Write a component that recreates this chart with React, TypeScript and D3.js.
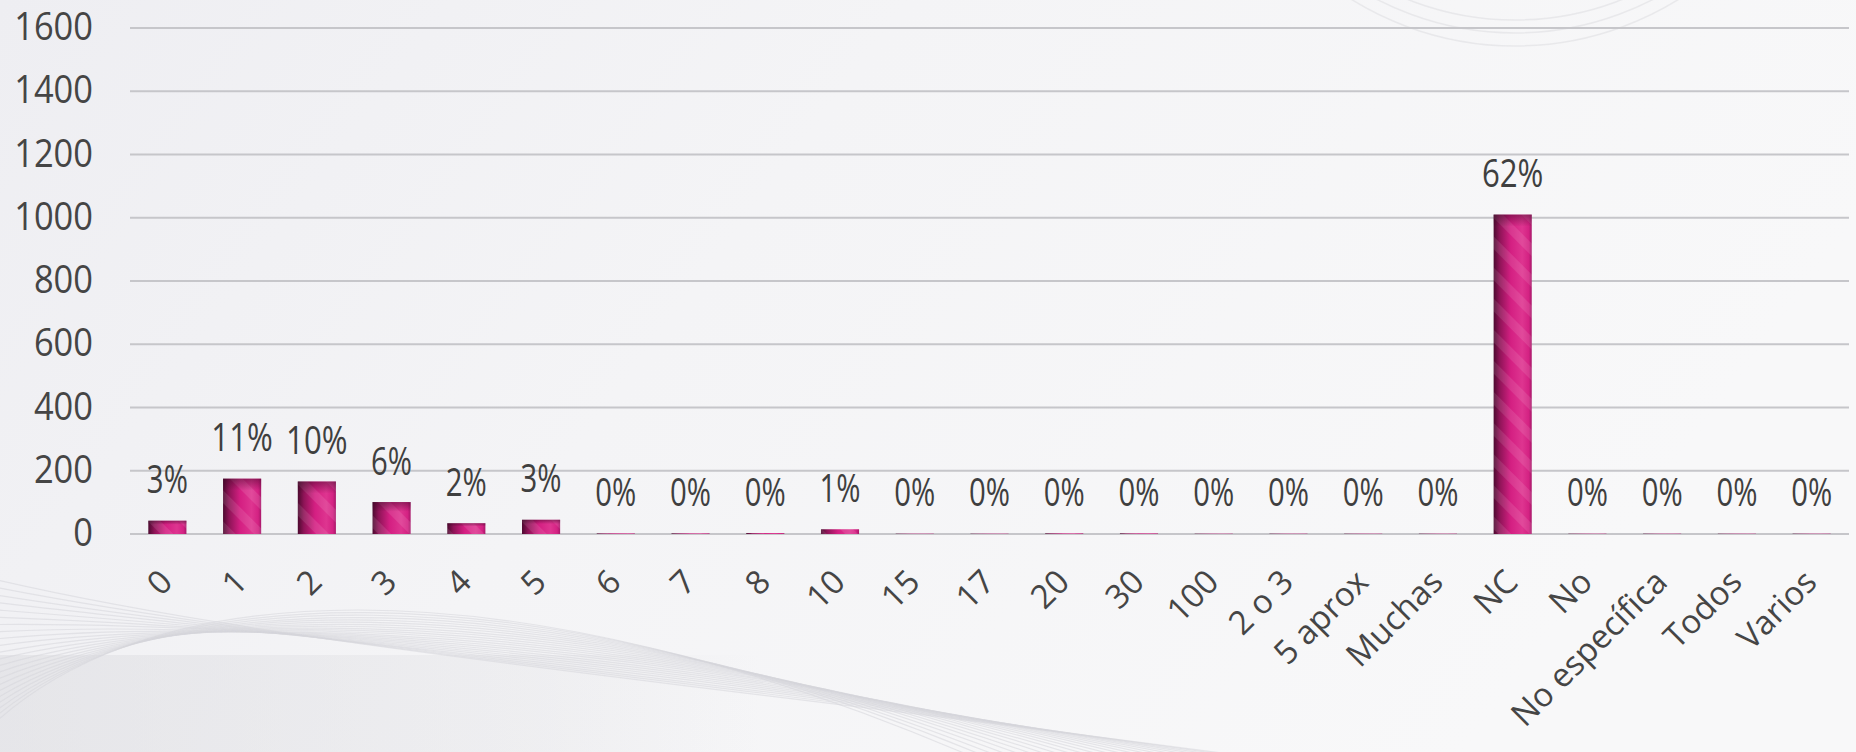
import React from "react";
import * as d3 from "d3";

const categories = ["0","1","2","3","4","5","6","7","8","10","15","17","20","30","100","2 o 3","5 aprox","Muchas","NC","No","No específica","Todos","Varios"];
const values = [42,175,166,101,34,45,2,2,3,15,1,1,2,2,1,1,1,1,1010,1,1,1,1];
const pctLabels = ["3%","11%","10%","6%","2%","3%","0%","0%","0%","1%","0%","0%","0%","0%","0%","0%","0%","0%","62%","0%","0%","0%","0%"];
const yTicks = [0,200,400,600,800,1000,1200,1400,1600];

const W = 1856, H = 752;
const left = 130, right = 1849, top = 28, bottom = 534;

export default function App() {
  const x = d3.scaleBand<string>().domain(categories).range([left, right]).paddingInner(0.49).paddingOuter(0.245);
  const y = d3.scaleLinear().domain([0, 1600]).range([bottom, top]);
  const numFont = "'Open Sans', 'Noto Sans', sans-serif";
  const hills = d3.range(22).map((i) => {
    const p = d3.path();
    p.moveTo(-40, 760 - i * 9);
    p.bezierCurveTo(120 + i * 6, 560 + i * 4, 520 + i * 10, 560 + i * 6, 980 + i * 14, 760);
    return p.toString();
  });
  const topArcs = d3.range(3).map((i) => {
    const p = d3.path();
    p.arc(1515, -270 + i * 3, 290 + i * 10, 0.1, Math.PI - 0.1);
    return p.toString();
  });
  return (
    <svg width={W} height={H} style={{ position: "absolute", left: 0, top: 0, display: "block" }}>
      <defs>
        <linearGradient id="bg" x1="0" y1="0" x2="1" y2="0.3">
          <stop offset="0" stopColor="#eeeef2" />
          <stop offset="0.45" stopColor="#f4f4f6" />
          <stop offset="1" stopColor="#f8f8f9" />
        </linearGradient>
        <linearGradient id="band" x1="0" y1="0" x2="1" y2="0">
          <stop offset="0" stopColor="#dcdce0" stopOpacity="0.55" />
          <stop offset="0.7" stopColor="#dcdce0" stopOpacity="0.25" />
          <stop offset="1" stopColor="#dcdce0" stopOpacity="0" />
        </linearGradient>
        <linearGradient id="barGrad" x1="0" y1="0" x2="1" y2="0">
          <stop offset="0" stopColor="#4d0a30" />
          <stop offset="0.16" stopColor="#8e1457" />
          <stop offset="0.45" stopColor="#d41f82" />
          <stop offset="0.75" stopColor="#de3590" />
          <stop offset="0.92" stopColor="#d42283" />
          <stop offset="1" stopColor="#a8186a" />
        </linearGradient>
        <linearGradient id="capGrad" x1="0" y1="0" x2="0" y2="1">
          <stop offset="0" stopColor="#3a0522" stopOpacity="0.45" />
          <stop offset="1" stopColor="#3a0522" stopOpacity="0" />
        </linearGradient>
        <pattern id="stripes" patternUnits="userSpaceOnUse" width="22" height="22" patternTransform="rotate(-45)">
          <rect x="0" y="0" width="9" height="22" fill="#ffffff" fillOpacity="0.1" />
        </pattern>
      </defs>
      <rect x={0} y={0} width={W} height={H} fill="url(#bg)" />
      <rect x={0} y={655} width={760} height={97} fill="url(#band)" />
      <g fill="none" stroke="#d6d6da" strokeOpacity="0.55" strokeWidth="1.2">
        {hills.map((d, i) => <path key={i} d={d} />)}
      </g>
      <g fill="none" stroke="#e2e2e6" strokeOpacity="0.7" strokeWidth="1.5">
        {topArcs.map((d, i) => <path key={i} d={d} />)}
      </g>
      <g>
        {yTicks.map((t) => (
          <line key={t} x1={left} x2={right} y1={y(t)} y2={y(t)} stroke="#c6c6ca" strokeWidth={2} />
        ))}
      </g>
      <g fontFamily={numFont} fontSize={38} fill="#454545" textAnchor="end">
        {yTicks.map((t) => {
          const s = String(t);
          return (
            <text key={t} x={93} y={y(t) + 12} textLength={s.length * 19.7} lengthAdjust="spacingAndGlyphs">{s}</text>
          );
        })}
      </g>
      <g>
        {categories.map((c, i) => {
          const bx = x(c)!;
          const by = y(values[i]);
          const h = bottom - by;
          return (
            <g key={c}>
              <rect x={bx} y={by} width={x.bandwidth()} height={h} fill="url(#barGrad)" />
              <rect x={bx} y={by} width={x.bandwidth()} height={h} fill="url(#stripes)" />
              {h > 8 && <rect x={bx} y={by} width={x.bandwidth()} height={Math.min(h * 0.3, 12)} fill="url(#capGrad)" />}
            </g>
          );
        })}
      </g>
      <g fontFamily={numFont} fontSize={38} fill="#3f3f3f" textAnchor="middle">
        {categories.map((c, i) => (
          <text key={c} x={x(c)! + x.bandwidth() / 2} y={y(values[i]) - 27.5} textLength={pctLabels[i].length * 20.5} lengthAdjust="spacingAndGlyphs">{pctLabels[i]}</text>
        ))}
      </g>
      <g fontFamily="'Open Sans', 'Noto Sans', sans-serif" fontSize={33} fill="#454545" textAnchor="end">
        {categories.map((c) => {
          const cx = x(c)! + x.bandwidth() / 2;
          return (
            <text key={c} transform={`translate(${cx + 7},${bottom + 50}) rotate(-45)`}>{c}</text>
          );
        })}
      </g>
    </svg>
  );
}
